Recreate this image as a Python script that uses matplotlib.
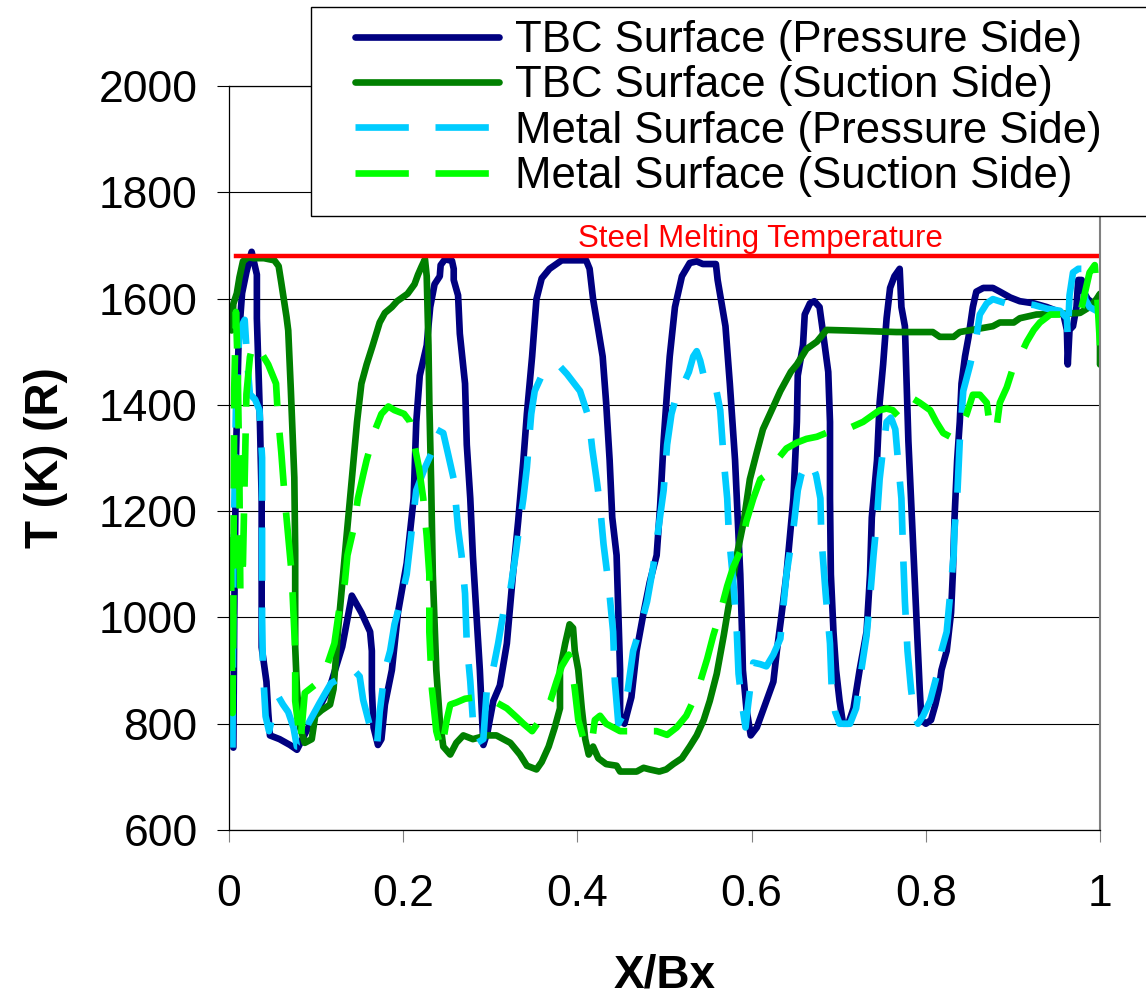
import matplotlib
matplotlib.use("Agg")
import matplotlib.pyplot as plt
from matplotlib.patches import Rectangle

plt.rcParams["font.family"] = ["Liberation Sans", "DejaVu Sans"]
plt.rcParams["font.size"] = 32

# ---- data ----
tbc_ps_x = [0.005, 0.006, 0.008, 0.011, 0.015, 0.020, 0.026, 0.032, 0.032, 0.035, 0.0375, 0.0375, 0.043, 0.045, 0.047,
            0.058, 0.070, 0.078, 0.091, 0.104, 0.116, 0.130, 0.141, 0.152, 0.162, 0.164, 0.164, 0.166, 0.171, 0.175,
            0.179, 0.187, 0.194, 0.204, 0.212, 0.215, 0.219, 0.227, 0.231, 0.236, 0.242, 0.243, 0.248, 0.256, 0.258,
            0.258, 0.263, 0.265, 0.271, 0.273, 0.277, 0.280, 0.284, 0.288, 0.292, 0.297, 0.3035, 0.311, 0.319, 0.326,
            0.332, 0.338, 0.342, 0.348, 0.353, 0.359, 0.368, 0.382, 0.410, 0.414, 0.418, 0.424, 0.429, 0.433, 0.437,
            0.440, 0.445, 0.447, 0.449, 0.449, 0.454, 0.462, 0.468, 0.476, 0.483, 0.491, 0.495, 0.499, 0.503, 0.506,
            0.512, 0.520, 0.529, 0.537, 0.544, 0.559, 0.561, 0.570, 0.575, 0.581, 0.584, 0.587, 0.589, 0.590, 0.594,
            0.599, 0.606, 0.614, 0.617, 0.625, 0.629, 0.634, 0.640, 0.648, 0.652, 0.653, 0.659, 0.661, 0.667, 0.672,
            0.678, 0.681, 0.688, 0.690, 0.690, 0.691, 0.694, 0.697, 0.701, 0.705, 0.711, 0.717, 0.724, 0.732, 0.736,
            0.738, 0.744, 0.747, 0.751, 0.755, 0.759, 0.764, 0.770, 0.772, 0.776, 0.778, 0.780, 0.783, 0.786, 0.789,
            0.791, 0.793, 0.795, 0.800, 0.806, 0.811, 0.815, 0.818, 0.824, 0.829, 0.831, 0.833, 0.836, 0.839, 0.841,
            0.845, 0.849, 0.854, 0.858, 0.866, 0.877, 0.885, 0.897, 0.908, 0.924, 0.939, 0.950, 0.958, 0.962, 0.963,
            0.965, 0.969, 0.973, 0.975, 0.979, 0.981, 0.986, 0.992, 0.998, 1.0]
tbc_ps_y = [755, 1000, 1300, 1520, 1610, 1650, 1688, 1645, 1563, 1404, 1224, 944, 879, 822, 778,
            771, 760, 751, 793, 832, 870, 945, 1041, 1009, 973, 937, 865, 793, 760, 771,
            836, 901, 1009, 1102, 1224, 1368, 1455, 1512, 1584, 1627, 1642, 1663, 1674, 1671, 1656,
            1635, 1606, 1534, 1440, 1325, 1224, 1116, 1009, 901, 760, 786, 843, 872, 951, 1081,
            1181, 1296, 1383, 1491, 1599, 1638, 1656, 1672, 1672, 1656, 1599, 1541, 1491, 1404, 1296,
            1188, 1117, 1009, 901, 807, 800, 850, 937, 1009, 1066, 1117, 1210, 1332, 1426, 1491,
            1584, 1642, 1667, 1670, 1665, 1665, 1635, 1548, 1440, 1296, 1188, 1081, 973, 901, 829,
            778, 793, 829, 843, 879, 937, 1000, 1081, 1224, 1368, 1455, 1512, 1570, 1591, 1595,
            1584, 1548, 1462, 1368, 1224, 1081, 973, 901, 843, 800, 800, 829, 901, 973, 1081,
            1188, 1296, 1404, 1476, 1563, 1620, 1642, 1656, 1584, 1548, 1440, 1332, 1224, 1117, 1009,
            937, 865, 807, 800, 807, 836, 865, 901, 937, 1009, 1081, 1188, 1296, 1368, 1440,
            1491, 1527, 1584, 1613, 1620, 1620, 1613, 1602, 1595, 1591, 1584, 1577, 1570, 1541, 1476,
            1541, 1548, 1584, 1635, 1635, 1613, 1599, 1591, 1599, 1584]

tbc_ss_x = [0.003, 0.005, 0.009, 0.012, 0.016, 0.022, 0.028, 0.040, 0.052, 0.057, 0.060, 0.066, 0.068, 0.071, 0.075,
            0.076, 0.076, 0.078, 0.0815, 0.087, 0.095, 0.099, 0.106, 0.116, 0.120, 0.125, 0.131, 0.135, 0.141, 0.147,
            0.152, 0.158, 0.165, 0.173, 0.179, 0.187, 0.193, 0.205, 0.213, 0.217, 0.221, 0.225, 0.227, 0.229, 0.230,
            0.232, 0.234, 0.238, 0.242, 0.246, 0.254, 0.261, 0.269, 0.280, 0.296, 0.307, 0.315, 0.323, 0.334, 0.342,
            0.353, 0.359, 0.367, 0.374, 0.380, 0.380, 0.386, 0.391, 0.395, 0.397, 0.401, 0.405, 0.409, 0.413, 0.418,
            0.424, 0.433, 0.445, 0.449, 0.468, 0.476, 0.483, 0.494, 0.502, 0.510, 0.520, 0.529, 0.537, 0.545, 0.552,
            0.560, 0.568, 0.576, 0.583, 0.591, 0.598, 0.606, 0.613, 0.625, 0.633, 0.645, 0.652, 0.663, 0.675, 0.686,
            0.709, 0.766, 0.808, 0.816, 0.832, 0.839, 0.877, 0.885, 0.901, 0.908, 0.927, 0.950, 0.977, 0.988, 0.996,
            1.0, 1.0, 1.0]
tbc_ss_y = [1540, 1590, 1610, 1640, 1670, 1678, 1676, 1676, 1672, 1661, 1630, 1566, 1540, 1428, 1263,
            1126, 944, 865, 793, 764, 771, 815, 825, 836, 865, 973, 1081, 1153, 1260, 1368,
            1440, 1476, 1512, 1555, 1573, 1584, 1595, 1609, 1627, 1645, 1660, 1674, 1642, 1512, 1404,
            1260, 1081, 901, 807, 757, 742, 764, 778, 771, 778, 778, 771, 764, 742, 721,
            714, 728, 757, 793, 829, 901, 951, 987, 980, 937, 901, 829, 771, 742, 757,
            735, 724, 721, 710, 710, 717, 714, 710, 714, 724, 735, 757, 778, 807, 843,
            894, 966, 1045, 1117, 1181, 1260, 1311, 1354, 1397, 1426, 1462, 1476, 1505, 1519, 1541,
            1540, 1537, 1537, 1528, 1528, 1537, 1548, 1555, 1555, 1563, 1570, 1571, 1573, 1584, 1599,
            1609, 1548, 1476]

metal_ps_x = [0.004, 0.005, 0.008, 0.012, 0.018, 0.021, 0.024, 0.030, 0.035, 0.038, 0.038, 0.039, 0.040, 0.042, 0.046,
              0.053, 0.057, 0.062, 0.068, 0.074, 0.078, 0.083, 0.091, 0.104, 0.117, 0.131, 0.141, 0.150, 0.154, 0.162,
              0.170, 0.173, 0.179, 0.185, 0.190, 0.198, 0.204, 0.210, 0.215, 0.225, 0.233, 0.238, 0.246, 0.252, 0.258,
              0.263, 0.267, 0.271, 0.273, 0.277, 0.280, 0.285, 0.292, 0.296, 0.303, 0.309, 0.315, 0.323, 0.329, 0.333,
              0.338, 0.342, 0.347, 0.351, 0.359, 0.367, 0.378, 0.388, 0.403, 0.413, 0.417, 0.422, 0.426, 0.430, 0.436,
              0.441, 0.443, 0.447, 0.452, 0.458, 0.464, 0.472, 0.480, 0.487, 0.493, 0.499, 0.503, 0.508, 0.514, 0.522,
              0.528, 0.533, 0.537, 0.541, 0.545, 0.552, 0.558, 0.564, 0.568, 0.572, 0.574, 0.579, 0.583, 0.585, 0.589,
              0.593, 0.596, 0.602, 0.610, 0.617, 0.625, 0.633, 0.640, 0.648, 0.653, 0.657, 0.663, 0.668, 0.674, 0.679,
              0.680, 0.685, 0.690, 0.692, 0.696, 0.701, 0.713, 0.720, 0.726, 0.732, 0.736, 0.740, 0.744, 0.747, 0.751,
              0.755, 0.760, 0.765, 0.768, 0.772, 0.774, 0.776, 0.779, 0.783, 0.787, 0.791, 0.797, 0.805, 0.812, 0.818,
              0.824, 0.828, 0.832, 0.833, 0.836, 0.839, 0.843, 0.851, 0.858, 0.862, 0.870, 0.877, 0.892, 0.908, 0.924,
              0.939, 0.954, 0.962, 0.963, 0.965, 0.969, 0.975, 0.981, 0.983, 0.988, 0.996, 1.0]
metal_ps_y = [755, 1100, 1400, 1540, 1560, 1480, 1420, 1410, 1390, 1300, 1000, 900, 872, 814, 786,
              836, 850, 836, 822, 793, 757, 757, 800, 839, 876, 889, 905, 889, 845, 794,
              760, 822, 901, 937, 987, 1037, 1081, 1167, 1239, 1282, 1311, 1354, 1347, 1304, 1260,
              1167, 1117, 1045, 951, 880, 807, 764, 771, 865, 901, 951, 1009, 1052, 1117, 1167,
              1224, 1282, 1383, 1426, 1455, 1469, 1476, 1458, 1426, 1376, 1318, 1260, 1210, 1138, 1059,
              973, 879, 800, 815, 865, 937, 980, 1030, 1095, 1167, 1239, 1325, 1383, 1419, 1440,
              1462, 1491, 1501, 1483, 1455, 1455, 1440, 1390, 1296, 1224, 1153, 1066, 973, 894, 836,
              793, 836, 915, 912, 908, 930, 960, 1081, 1167, 1239, 1268, 1289, 1293, 1268, 1224,
              1153, 1045, 951, 865, 822, 800, 800, 829, 901, 966, 1037, 1117, 1188, 1260, 1318,
              1368, 1376, 1354, 1296, 1224, 1117, 1030, 937, 865, 815, 800, 815, 843, 887, 937,
              973, 1045, 1117, 1167, 1224, 1332, 1426, 1476, 1527, 1570, 1591, 1599, 1591, 1591, 1588,
              1581, 1577, 1563, 1527, 1606, 1649, 1656, 1656, 1599, 1584, 1577, 1581]

metal_ss_x = [0.002, 0.004, 0.005, 0.006, 0.008, 0.010, 0.012, 0.013, 0.016, 0.020, 0.024, 0.028, 0.037, 0.045, 0.054,
              0.056, 0.060, 0.064, 0.068, 0.072, 0.074, 0.076, 0.076, 0.082, 0.087, 0.101, 0.112, 0.121, 0.126, 0.133,
              0.136, 0.143, 0.148, 0.154, 0.158, 0.163, 0.168, 0.175, 0.183, 0.190, 0.201, 0.208, 0.212, 0.218, 0.223,
              0.227, 0.230, 0.230, 0.233, 0.238, 0.244, 0.250, 0.254, 0.261, 0.271, 0.284, 0.296, 0.307, 0.319, 0.331,
              0.338, 0.348, 0.357, 0.369, 0.376, 0.382, 0.390, 0.393, 0.397, 0.401, 0.407, 0.416, 0.420, 0.426, 0.433,
              0.449, 0.476, 0.491, 0.503, 0.514, 0.525, 0.533, 0.541, 0.549, 0.556, 0.564, 0.572, 0.579, 0.587, 0.594,
              0.602, 0.610, 0.617, 0.621, 0.629, 0.640, 0.652, 0.663, 0.675, 0.690, 0.709, 0.728, 0.747, 0.755, 0.762,
              0.770, 0.778, 0.786, 0.793, 0.805, 0.812, 0.820, 0.828, 0.839, 0.847, 0.854, 0.862, 0.870, 0.874, 0.881,
              0.885, 0.893, 0.900, 0.908, 0.916, 0.924, 0.931, 0.943, 0.958, 0.977, 0.988, 0.994, 0.997, 1.0]
metal_ss_y = [1150, 820, 1000, 1430, 1575, 1470, 1250, 1050, 1100, 1420, 1490, 1516, 1498, 1476, 1440,
              1383, 1311, 1224, 1153, 1081, 1009, 937, 843, 764, 858, 876, 907, 951, 1009, 1066,
              1117, 1167, 1224, 1268, 1296, 1325, 1354, 1383, 1397, 1390, 1383, 1368, 1332, 1282, 1224,
              1153, 1081, 973, 865, 786, 750, 807, 836, 840, 847, 850, 847, 840, 829, 811,
              800, 786, 807, 843, 879, 908, 930, 915, 865, 807, 771, 757, 807, 815, 800,
              786, 786, 786, 779, 793, 815, 843, 879, 922, 966, 1009, 1059, 1095, 1124, 1181,
              1224, 1260, 1268, 1282, 1296, 1318, 1329, 1336, 1340, 1350, 1354, 1368, 1390, 1393, 1390,
              1376, 1397, 1411, 1404, 1390, 1368, 1347, 1340, 1354, 1383, 1419, 1419, 1404, 1354, 1354,
              1404, 1433, 1469, 1491, 1519, 1541, 1555, 1570, 1570, 1570, 1649, 1663, 1599, 1512]

melt_T = 1680
melt_x = [0.008, 1.0]

labels = ["TBC Surface (Pressure Side)", "TBC Surface (Suction Side)",
          "Metal Surface (Pressure Side)", "Metal Surface (Suction Side)"]
yticks = [600, 800, 1000, 1200, 1400, 1600, 1800, 2000]
xticks = [0, 0.2, 0.4, 0.6, 0.8, 1]
xticklabels = ["0", "0.2", "0.4", "0.6", "0.8", "1"]

W, H = 1146, 997
fig = plt.figure(figsize=(W / 100, H / 100), dpi=100)
ax = fig.add_axes([229 / W, 1 - 830 / H, 871 / W, 744 / H])

lw = 4.8
l1, = ax.plot(tbc_ps_x, tbc_ps_y, color="#000080", lw=lw, solid_capstyle="round", solid_joinstyle="round")
l2, = ax.plot(tbc_ss_x, tbc_ss_y, color="#008000", lw=lw, solid_capstyle="round", solid_joinstyle="round")
l3, = ax.plot(metal_ps_x, metal_ps_y, color="#00CCFF", lw=lw, dashes=(8, 4), dash_capstyle="butt")
l4, = ax.plot(metal_ss_x, metal_ss_y, color="#00FF00", lw=lw, dashes=(8, 4), dash_capstyle="butt")
ax.plot(melt_x, [melt_T, melt_T], color="#FF0000", lw=3.2)
ax.text(0.61, melt_T + 32, "Steel Melting Temperature", color="#FF0000", fontsize=22.5,
        ha="center", va="center")

ax.set_xlim(0, 1)
ax.set_ylim(600, 2000)
ax.set_yticks(yticks)
ax.set_xticks(xticks)
ax.set_xticklabels(xticklabels)
ax.tick_params(axis="y", direction="out", length=8.6, width=0.8, pad=14, labelsize=32)
ax.tick_params(axis="x", direction="out", length=8.6, width=0.8, pad=23, labelsize=32,
               color="#808080", labelcolor="black")
ax.grid(True, axis="y", color="black", lw=0.8)
for s in ["left", "bottom", "top"]:
    ax.spines[s].set_color("black")
    ax.spines[s].set_linewidth(0.9)
ax.spines["right"].set_color("#808080")
ax.spines["right"].set_linewidth(1.5)

ax.set_ylabel("T (K) (R)", fontsize=33, fontweight="bold", labelpad=22)
ax.set_xlabel("X/Bx", fontsize=33, fontweight="bold", labelpad=28)

# legend box drawn by hand so the padding matches
fig.patches.append(Rectangle((311 / W, 1 - 216 / H), 900 / W, 209 / H, transform=fig.transFigure,
                             facecolor="white", edgecolor="black", lw=1.0, zorder=2))
fig.legend([l1, l2, l3, l4], labels, loc="upper left", bbox_to_anchor=(355 / W, 1 - 20 / H),
           frameon=False, borderpad=0, borderaxespad=0, handlelength=3.3, handletextpad=0.35,
           labelspacing=0.1, fontsize=31.5)

fig.savefig("out.png", dpi=100)
